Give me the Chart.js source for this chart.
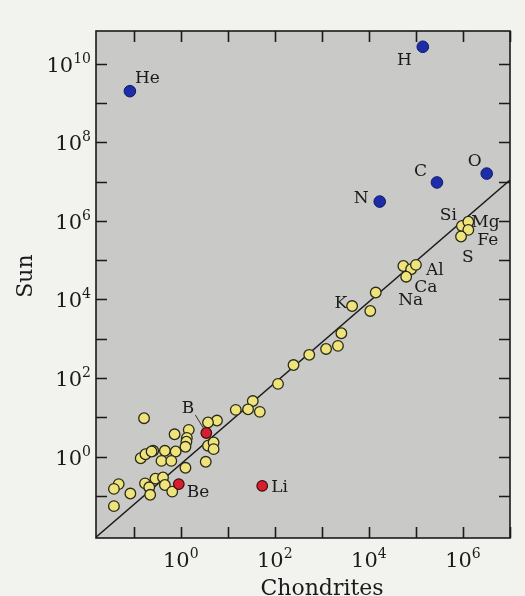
<!DOCTYPE html>
<html>
<head>
<meta charset="utf-8">
<title>Sun vs Chondrites</title>
<script src="https://cdn.jsdelivr.net/npm/chart.js@4.4.0/dist/chart.umd.min.js"></script>
<style>
    body { margin: 0; background: #f2f2ef; }
    #wrap { width: 525px; height: 596px; }
</style>
</head>
<body>
<div id="wrap"><canvas id="abundChart" width="525" height="596"></canvas></div>
<script>
// --- 1. Data (abundances) ---

// Volatile elements (blue)
const blueNames = ['H', 'He', 'C', 'N', 'O'];
const blueX = [1.4e5, 0.083, 2.8e5, 1.7e4, 3.2e6];
const blueY = [2.7e10, 2.0e9, 9.5e6, 3.1e6, 1.6e7];

// Light elements (red)
const redNames = ['Li', 'Be', 'B'];
const redX = [54, 0.91, 3.5];
const redY = [0.18, 0.20, 4.0];

// Everything else (yellow)
const yellowNames = ['K', '', '', '', '', 'Al', '', 'Si', 'Mg', 'Fe', 'S', '', '', '', '', '', '', '', '', '', '', '', '', '', '', '', '', '', '', '', '', '', '', '', '', '', '', '', '', '', '', '', '', '', '', '', '', '', '', '', '', '', ''];
const yellowX = [4400, 1.07e4, 1.4e4, 5.4e4, 7.9e4, 1.0e5, 6.2e4, 9.5e5, 1.3e6, 1.3e6, 9.1e5,
    2600, 2200, 1230, 540, 250, 117, 34, 27, 48, 14.8, 5.9, 3.8, 0.166, 1.48, 0.74, 1.35, 1.32, 1.26,
    3.8, 5.0, 5.0, 0.26, 0.141, 0.178, 0.24, 0.46, 0.78, 0.39, 0.63, 1.26, 3.4,
    0.29, 0.42, 0.174, 0.214, 0.224, 0.46, 0.66, 0.048, 0.038, 0.085, 0.038];
const yellowY = [6800, 5100, 1.5e4, 7.1e4, 5.9e4, 7.6e4, 3.8e4, 7.4e5, 9.5e5, 5.9e5, 4.0e5,
    1380, 660, 550, 390, 214, 71, 26, 16, 13.8, 15.5, 8.3, 7.4, 9.5, 4.8, 3.7, 3.0, 2.4, 1.78,
    1.9, 2.3, 1.55, 1.41, 0.91, 1.15, 1.35, 1.41, 1.35, 0.78, 0.78, 0.52, 0.74,
    0.275, 0.295, 0.209, 0.166, 0.107, 0.19, 0.129, 0.20, 0.151, 0.115, 0.055];

// Extra labels that sit next to the Al/Ca/Na group
const extraLabels = [
    { text: 'Ca', x: 6.2e4, y: 3.8e4 },
    { text: 'Na', x: 6.2e4, y: 3.8e4 }
];

// Reference line Sun = Chondrites
const lineX = [0.0158, 1e7];
const lineY = [0.0089, 1.1e7];

// Axis ranges and decades
const xRange = [0.0158, 1e7];
const yRange = [0.0085, 6.8e10];
const xDecades = [-1, 0, 1, 2, 3, 4, 5, 6, 7];
const yDecades = [-1, 0, 1, 2, 3, 4, 5, 6, 7, 8, 9, 10];

// --- 2. Label styling (offsets in pixels from the dot) ---
const labelOffsets = {
    H: [-11, 18, 'right'], He: [5, -8, 'left'], C: [-10, -6, 'right'], N: [-11, 1, 'right'],
    O: [-12, -8, 'center'], Li: [9, 6, 'left'], Be: [8, 13, 'left'], B: [-12, -20, 'right'],
    K: [-5, 2, 'right'], Al: [10, 10, 'left'], Si: [-5, -6, 'right'], Mg: [3, 5, 'left'],
    Fe: [9, 15, 'left'], S: [1, 25, 'left'], Ca: [8, 15, 'left'], Na: [-8, 28, 'left']
};

const serif = '"DejaVu Serif", "Liberation Serif", serif';

function toPoints(xs, ys) {
    return xs.map((x, i) => ({ x: x, y: ys[i] }));
}

// --- 3. Plugins: plot background, frame + ticks, text ---
const framePlugin = {
    id: 'frame',
    beforeDatasetsDraw(chart) {
        const a = chart.chartArea;
        const c = chart.ctx;
        c.save();
        c.fillStyle = '#c9c9c7';
        c.fillRect(a.left, a.top, a.right - a.left, a.bottom - a.top);
        c.restore();
    },
    afterDatasetsDraw(chart) {
        const a = chart.chartArea;
        const c = chart.ctx;
        const xs = chart.scales.x, ys = chart.scales.y;
        const len = 11;
        c.save();
        c.strokeStyle = '#1a1a1a';
        c.lineWidth = 1.6;
        c.strokeRect(a.left, a.top, a.right - a.left, a.bottom - a.top);

        c.beginPath();
        xs.ticks.forEach(t => {
            const px = Math.round(xs.getPixelForValue(t.value)) + 0.5;
            c.moveTo(px, a.bottom); c.lineTo(px, a.bottom - len);
            c.moveTo(px, a.top); c.lineTo(px, a.top + len);
        });
        ys.ticks.forEach(t => {
            const py = Math.round(ys.getPixelForValue(t.value)) + 0.5;
            c.moveTo(a.left, py); c.lineTo(a.left + len, py);
            c.moveTo(a.right, py); c.lineTo(a.right - len, py);
        });
        c.stroke();

        // tick labels on even decades: "10" with a raised exponent
        c.fillStyle = '#1a1a1a';
        c.textBaseline = 'alphabetic';
        const drawPow = (exp, cx, baseY, align) => {
            c.font = '21px ' + serif;
            const w1 = c.measureText('10').width;
            c.font = '14px ' + serif;
            const w2 = c.measureText(String(exp)).width;
            const left = align === 'right' ? cx - w1 - w2 : cx - (w1 + w2) / 2;
            c.textAlign = 'left';
            c.font = '21px ' + serif;
            c.fillText('10', left, baseY);
            c.font = '14px ' + serif;
            c.fillText(String(exp), left + w1, baseY - 9);
        };
        xs.ticks.forEach(t => {
            const e = Math.round(Math.log10(t.value));
            if (e % 2 === 0) drawPow(e, xs.getPixelForValue(t.value), a.bottom + 29, 'center');
        });
        ys.ticks.forEach(t => {
            const e = Math.round(Math.log10(t.value));
            if (e % 2 === 0) drawPow(e, a.left - 5, ys.getPixelForValue(t.value) + 8, 'right');
        });

        // axis titles
        c.font = '22px ' + serif;
        c.textAlign = 'center';
        c.fillText('Chondrites', 322, 595);
        c.save();
        c.translate(32, 276);
        c.rotate(-Math.PI / 2);
        c.fillText('Sun', 0, 0);
        c.restore();
        c.restore();
    }
};

const labelPlugin = {
    id: 'elementLabels',
    afterDatasetsDraw(chart) {
        const c = chart.ctx;
        const xs = chart.scales.x, ys = chart.scales.y;
        c.save();
        c.font = '17px ' + serif;
        c.fillStyle = '#1a1a1a';
        c.textBaseline = 'alphabetic';
        const put = (name, px, py) => {
            const off = labelOffsets[name];
            if (!off) return;
            c.textAlign = off[2];
            c.fillText(name, px + off[0], py + off[1]);
        };
        chart.data.datasets.forEach((ds, di) => {
            if (!ds.names) return;
            const meta = chart.getDatasetMeta(di);
            meta.data.forEach((el, i) => {
                if (ds.names[i]) put(ds.names[i], el.x, el.y);
            });
        });
        extraLabels.forEach(l => put(l.text, xs.getPixelForValue(l.x), ys.getPixelForValue(l.y)));

        // leader line from the B label to its dot
        const bx = xs.getPixelForValue(redX[2]), by = ys.getPixelForValue(redY[2]);
        c.strokeStyle = '#333';
        c.lineWidth = 1;
        c.beginPath();
        c.moveTo(bx - 11, by - 18);
        c.lineTo(bx - 3, by - 5);
        c.stroke();
        c.restore();
    }
};

// --- 4. Chart ---
const ctx = document.getElementById('abundChart').getContext('2d');
const abundChart = new Chart(ctx, {
    type: 'scatter',
    data: {
        datasets: [
            {
                type: 'line',
                data: toPoints(lineX, lineY),
                borderColor: '#1a1a1a',
                borderWidth: 1.4,
                pointRadius: 0,
                fill: false,
                order: 10
            },
            {
                data: toPoints(yellowX, yellowY),
                names: yellowNames,
                backgroundColor: '#efe47c',
                borderColor: '#2a2a1a',
                borderWidth: 1.3,
                pointRadius: 5.3,
                order: 2
            },
            {
                data: toPoints(redX, redY),
                names: redNames,
                backgroundColor: '#d81e2e',
                borderColor: '#3a1010',
                borderWidth: 1.2,
                pointRadius: 5.3,
                order: 1
            },
            {
                data: toPoints(blueX, blueY),
                names: blueNames,
                backgroundColor: '#1c2da6',
                borderColor: '#0e1770',
                borderWidth: 1,
                pointRadius: 5.8,
                order: 0
            }
        ]
    },
    options: {
        responsive: false,
        animation: false,
        events: [],
        layout: { padding: { left: 96, right: 15, top: 31, bottom: 58 } },
        scales: {
            x: {
                type: 'logarithmic',
                display: false,
                min: xRange[0],
                max: xRange[1],
                ticks: { display: false, autoSkip: false },
                afterBuildTicks: axis => { axis.ticks = xDecades.map(e => ({ value: Math.pow(10, e) })); }
            },
            y: {
                type: 'logarithmic',
                display: false,
                min: yRange[0],
                max: yRange[1],
                ticks: { display: false, autoSkip: false },
                afterBuildTicks: axis => { axis.ticks = yDecades.map(e => ({ value: Math.pow(10, e) })); }
            }
        },
        plugins: {
            legend: { display: false },
            tooltip: { enabled: false }
        }
    },
    plugins: [framePlugin, labelPlugin]
});
</script>
</body>
</html>
